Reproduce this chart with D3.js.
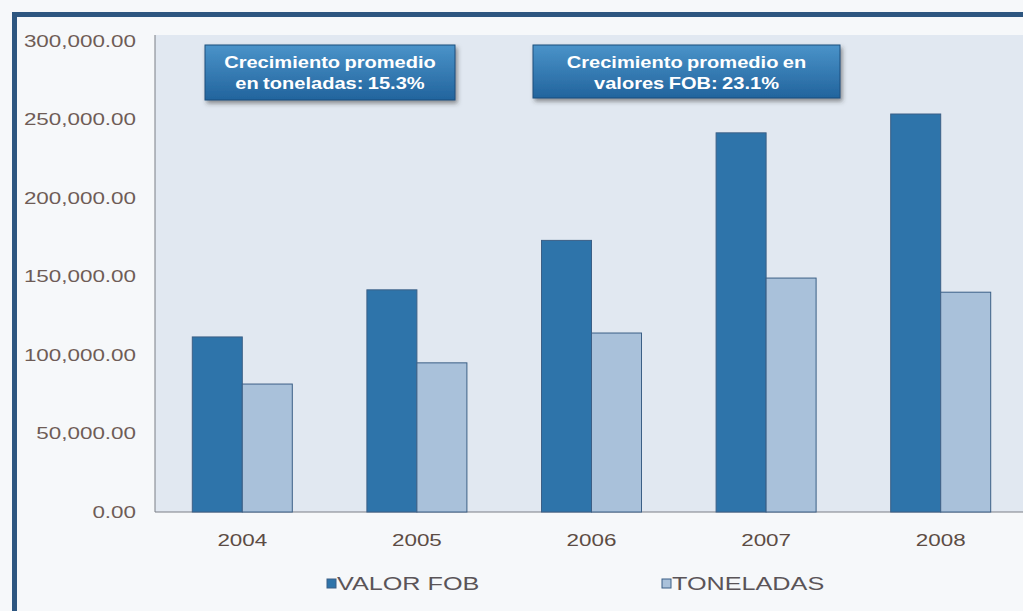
<!DOCTYPE html>
<html>
<head>
<meta charset="utf-8">
<script src="https://cdn.jsdelivr.net/npm/d3@7"></script>
<style>
  body { margin:0; background:#f5f7fa; }
  svg { display:block; font-family:"Liberation Sans", Arial, sans-serif; }
</style>
</head>
<body>
<div id="chart"></div>
<script>
// data
const years = ['2004','2005','2006','2007','2008'];
const valorFob = [111500, 141500, 173000, 241500, 253500];
const toneladas = [81500, 95000, 114000, 149000, 140000];
const seriesNames = ['VALOR FOB','TONELADAS'];
const yTicks = [0, 50000, 100000, 150000, 200000, 250000, 300000];

const width = 1023, height = 611;
const marginLeft = 155, marginTop = 35, plotRight = 1028, zeroY = 512;
const stretch = 1.4; // the scanned picture is wider than tall

const svg = d3.select('#chart').append('svg')
    .attr('width', width)
    .attr('height', height);

const defs = svg.append('defs');
const grad = defs.append('linearGradient').attr('id','boxGrad')
    .attr('x1',0).attr('y1',0).attr('x2',0).attr('y2',1);
grad.append('stop').attr('offset','0%').attr('stop-color','#4a93c9');
grad.append('stop').attr('offset','100%').attr('stop-color','#22649d');
const shadow = defs.append('filter').attr('id','shadow')
    .attr('x','-10%').attr('y','-10%').attr('width','130%').attr('height','140%');
shadow.append('feDropShadow').attr('dx',2).attr('dy',3).attr('stdDeviation',2)
    .attr('flood-color','#333').attr('flood-opacity',0.5);

// stretch text horizontally like the source
function widen(sel, k){
  sel.each(function(){
    const w = this.getComputedTextLength();
    d3.select(this).attr('textLength', w*k).attr('lengthAdjust','spacingAndGlyphs');
  });
}

// page + frame
svg.append('rect').attr('width',width).attr('height',height).attr('fill','#f6f8fa');
svg.append('rect').attr('x',12).attr('y',12).attr('width',width).attr('height',5).attr('fill','#2d5680');
svg.append('rect').attr('x',12).attr('y',12).attr('width',5).attr('height',height).attr('fill','#2d5680');

// plot background
svg.append('rect')
    .attr('x',marginLeft).attr('y',marginTop)
    .attr('width',plotRight - marginLeft).attr('height',zeroY - marginTop)
    .attr('fill','#e1e8f1');

const x = d3.scaleBand().domain(years).range([marginLeft, plotRight]);
const xSub = d3.scaleBand().domain(seriesNames).range([0, 100]);
const y = d3.scaleLinear().domain([0, 300000]).range([zeroY, 41]);

// y axis
const yAxis = svg.append('g')
    .attr('transform',`translate(${marginLeft},0)`)
    .call(d3.axisLeft(y).tickValues(yTicks).tickSize(0).tickPadding(19)
        .tickFormat(d3.format(',.2f')));
yAxis.select('.domain').attr('d',`M0,${marginTop}V${zeroY}`).attr('stroke','#7a7f86');
yAxis.selectAll('text').attr('fill','#6e5c56').style('font-size','16px');
widen(yAxis.selectAll('text'), stretch);

// x axis
const xAxis = svg.append('g')
    .attr('transform',`translate(0,${zeroY})`)
    .call(d3.axisBottom(x).tickSize(0).tickPadding(23));
xAxis.select('.domain').attr('d',`M${marginLeft},0H${plotRight}`).attr('stroke','#7a7f86');
xAxis.selectAll('text').attr('fill','#5c4c44').style('font-size','16px');
widen(xAxis.selectAll('text'), stretch);

// bars
const colors = {'VALOR FOB':'#2e74aa','TONELADAS':'#a9c1da'};
const rows = years.map((yr,i) => ({year:yr, values:[
    {name:'VALOR FOB', v:valorFob[i]},
    {name:'TONELADAS', v:toneladas[i]}]}));
const groups = svg.append('g').selectAll('g').data(rows).enter().append('g')
    .attr('transform', d => `translate(${x(d.year) + x.bandwidth()/2 - 50},0)`);
groups.selectAll('rect').data(d => d.values).enter().append('rect')
    .attr('x', d => xSub(d.name))
    .attr('y', d => y(d.v))
    .attr('width', xSub.bandwidth())
    .attr('height', d => zeroY - y(d.v))
    .attr('fill', d => colors[d.name])
    .attr('stroke','#3b5f86')
    .attr('stroke-width',1);

// callout boxes
const boxes = [
  {x:205, y:45, w:250, h:55, lines:['Crecimiento promedio','en toneladas: 15.3%']},
  {x:533, y:45, w:307, h:53, lines:['Crecimiento promedio en','valores FOB: 23.1%']}
];
boxes.forEach(b => {
  const g = svg.append('g');
  g.append('rect').attr('x',b.x).attr('y',b.y).attr('width',b.w).attr('height',b.h)
      .attr('fill','url(#boxGrad)').attr('stroke','#1d4f7c').attr('filter','url(#shadow)');
  const t = g.append('text').attr('x',b.x + b.w/2).attr('y',b.y + 23)
      .attr('text-anchor','middle').attr('fill','#fff')
      .style('font-size','17px').style('font-weight','bold').style('word-spacing','-1px');
  const spans = t.selectAll('tspan').data(b.lines).enter().append('tspan')
      .attr('x',b.x + b.w/2).attr('dy',(d,i) => i ? 21 : 0).text(d => d);
  widen(spans, 1.18);
});

// legend
const legend = svg.append('g').attr('transform','translate(327,590)');
[0,1].forEach(i => {
  const lg = legend.append('g').attr('transform',`translate(${i*335},0)`);
  lg.append('rect').attr('x',0).attr('y',-11).attr('width',9).attr('height',9)
      .attr('fill',colors[seriesNames[i]]).attr('stroke','#3b5f86');
  const t = lg.append('text').attr('x',10).attr('y',0).attr('fill','#5a5458')
      .style('font-size','18px').text(seriesNames[i]);
  widen(t, stretch);
});
</script>
</body>
</html>
